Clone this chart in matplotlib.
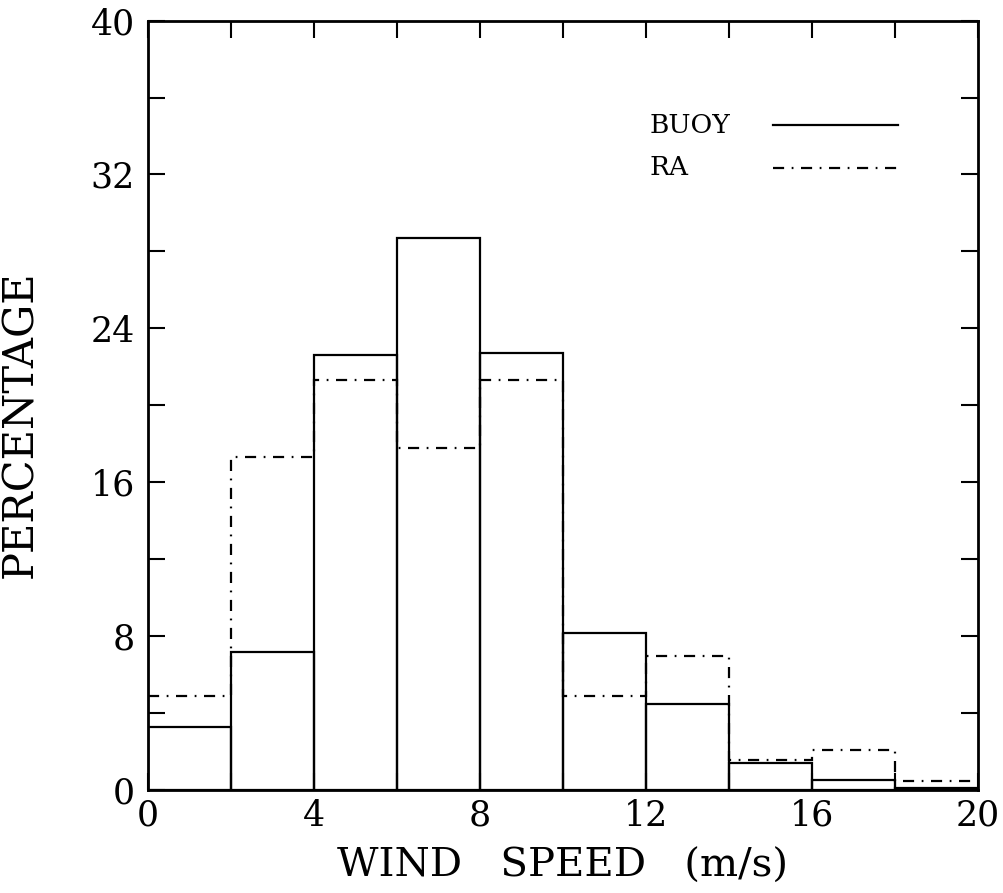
import numpy as np
import matplotlib
matplotlib.use("Agg")
from matplotlib import pyplot as plt
from matplotlib.ticker import MultipleLocator

# ======= Data =====================================================

bin_edges = [0, 2, 4, 6, 8, 10, 12, 14, 16, 18, 20]
buoy_pct = [3.3, 7.2, 22.6, 28.7, 22.7, 8.2, 4.5, 1.4, 0.55, 0.1]
ra_pct = [4.9, 17.3, 21.3, 17.8, 21.3, 4.9, 7.0, 1.6, 2.1, 0.5]

x_ticks = [0, 4, 8, 12, 16, 20]
y_ticks = [0, 8, 16, 24, 32, 40]

series_names = ["BUOY", "RA"]

RA_DASH = (0, (5.0, 3.4, 0.8, 3.4))  # 一点鎖線
LINE_W = 1.6

# ==================================================================


def main() -> None:
    plt.rcParams["font.family"] = "DejaVu Serif"

    fig = plt.figure(figsize=(10.04, 8.93), dpi=100)
    ax = fig.add_axes([0.147, 0.115, 0.827, 0.862])

    edges = np.array(bin_edges, dtype=float)
    centers = (edges[:-1] + edges[1:]) / 2
    widths = np.diff(edges)

    # BUOY: 枠線のみの棒
    ax.bar(centers, buoy_pct, width=widths, fill=False, edgecolor="black",
           linewidth=LINE_W)
    # RA: 一点鎖線の階段
    ax.stairs(ra_pct, edges, color="black", linewidth=LINE_W,
              linestyle=RA_DASH, baseline=None)

    ax.set_xlim(0, 20)
    ax.set_ylim(0, 40)
    ax.set_xticks(x_ticks)
    ax.set_yticks(y_ticks)
    ax.xaxis.set_minor_locator(MultipleLocator(2))
    ax.yaxis.set_minor_locator(MultipleLocator(4))
    ax.tick_params(which="both", direction="in", top=True, right=True,
                   length=12, width=1.5, labelsize=25)
    ax.tick_params(axis="x", pad=6)
    ax.tick_params(axis="y", pad=9)
    for spine in ax.spines.values():
        spine.set_linewidth(2.0)

    ax.set_xlabel("WIND   SPEED   (m/s)", fontsize=29)
    ax.xaxis.set_label_coords(0.5, -0.075)
    ax.set_ylabel("PERCENTAGE", fontsize=30)
    ax.yaxis.set_label_coords(-0.128, 0.475)

    # 凡例 (ラベルが左, 線が右, ラベルは左揃え)
    key_styles = ["-", RA_DASH]
    key_y = [0.864, 0.809]
    for name, style, y in zip(series_names, key_styles, key_y):
        ax.text(0.605, y, name, fontsize=19, ha="left", va="center",
                transform=ax.transAxes)
        ax.plot([0.753, 0.904], [y, y], color="black", linewidth=LINE_W,
                linestyle=style, transform=ax.transAxes)

    fig.savefig("out.png", dpi=100)
    plt.close(fig)


if __name__ == "__main__":
    main()
